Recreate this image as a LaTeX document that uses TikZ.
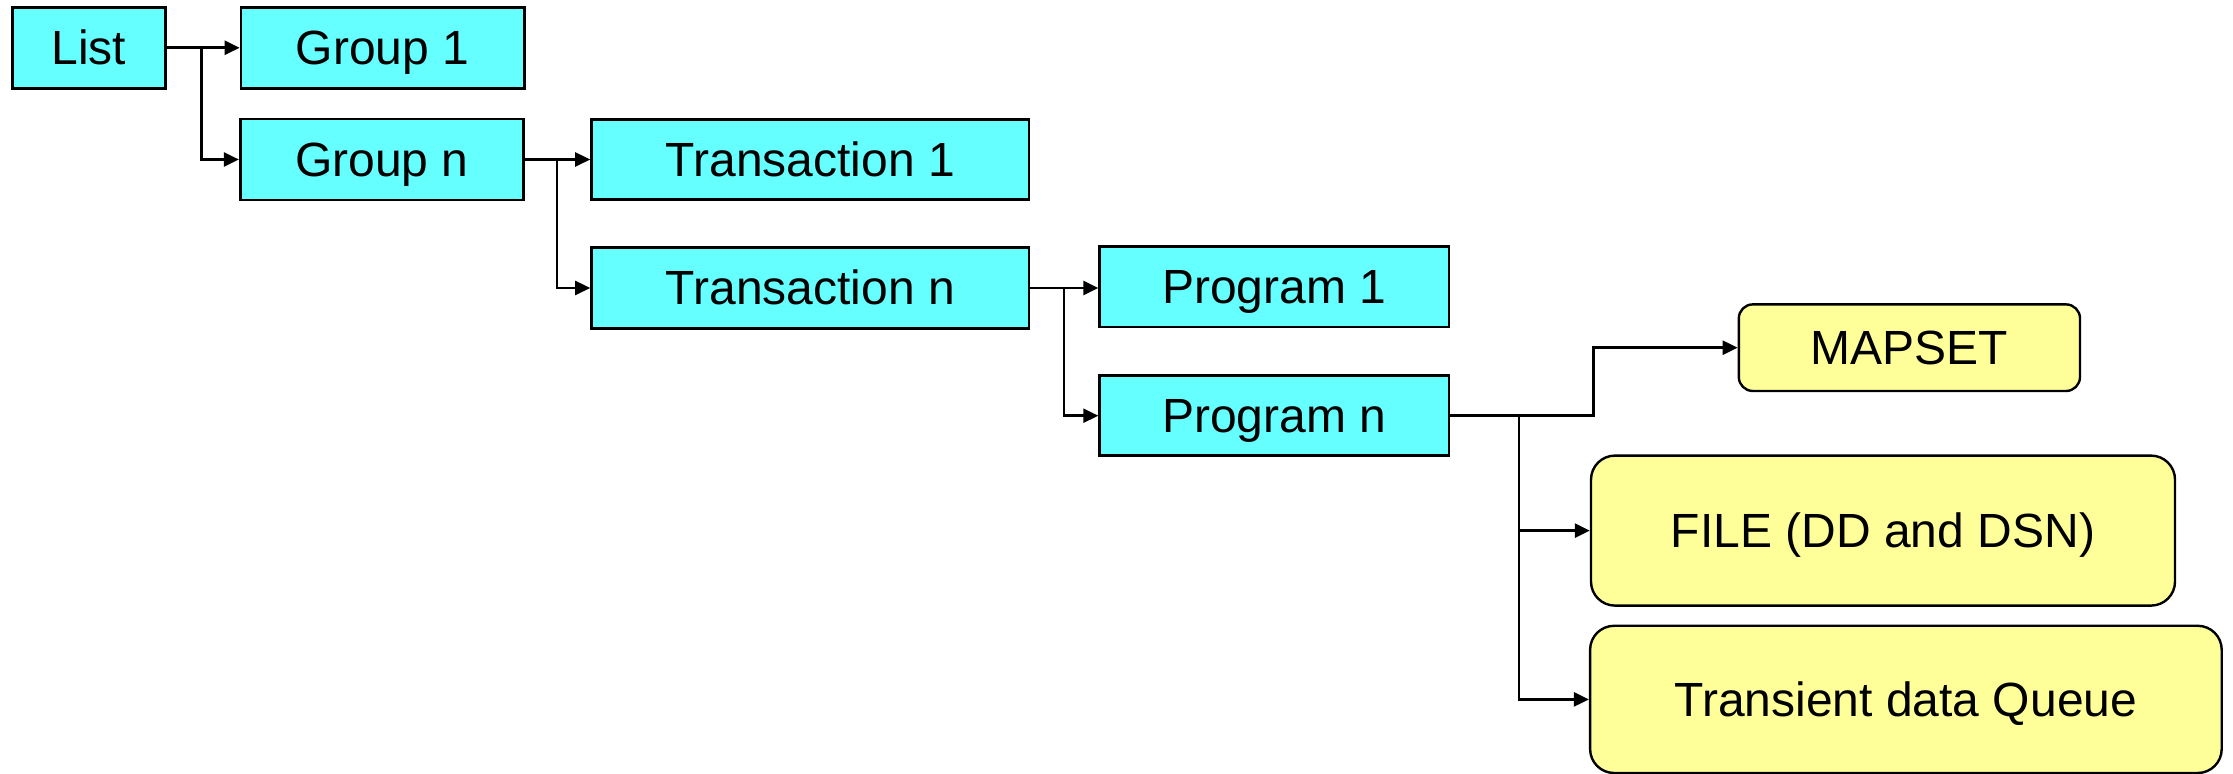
\documentclass[tikz,border=0pt]{standalone}
\usepackage{fontspec}
\setmainfont{Liberation Sans}
\usetikzlibrary{arrows.meta}
\definecolor{boxcyan}{HTML}{66FFFF}
\definecolor{boxyellow}{HTML}{FFFF99}
\begin{document}
\begin{tikzpicture}[x=0.5pt,y=-0.5pt,
  boxtext/.style={inner sep=0pt, text height=16.6pt, text depth=-0.6pt,
    font=\fontsize{24}{28}\selectfont},
  cbox/.style={boxtext, draw=black, line width=1.4pt, fill=boxcyan},
  ybox/.style={boxtext, draw=black, line width=1.2pt, fill=boxyellow},
  arr/.style={line width=1.3pt, -{Triangle[length=7.5pt,width=7pt]}}]
\useasboundingbox (0,0) rectangle (2233,774);
\node[cbox, minimum width=76.7pt, minimum height=40.5pt] (list) at (89,47.8) {List};
\node[cbox, minimum width=141.6pt, minimum height=40.5pt] (group1) at (382.6,47.8) {Group 1};
\node[cbox, minimum width=141.5pt, minimum height=40.5pt] (groupn) at (381.8,159.5) {Group n};
\node[cbox, minimum width=218.7pt, minimum height=40.3pt] (trans1) at (810.3,159.5) {Transaction 1};
\node[cbox, minimum width=218.7pt, minimum height=40.3pt] (transn) at (810.3,288) {Transaction n};
\node[cbox, minimum width=174.6pt, minimum height=40.2pt] (prog1) at (1274.3,286.9) {Program 1};
\node[cbox, minimum width=174.6pt, minimum height=40pt] (progn) at (1274.3,415.7) {Program n};
\node[ybox, rounded corners=7pt, minimum width=170.6pt, minimum height=43.3pt] (mapset) at (1909.4,347.7) {MAPSET};
\node[ybox, rounded corners=12pt, minimum width=292pt, minimum height=75pt] (file) at (1883,530.6) {FILE (DD and DSN)};
\node[ybox, rounded corners=12pt, minimum width=315.8pt, minimum height=73.6pt] (tq) at (1905.9,699.4) {Transient data Queue};
\coordinate (j1) at (201.7,47.8);
\coordinate (j2) at (556.8,159.5);
\coordinate (j3) at (1063.8,288);
\coordinate (j4) at (1519,415.7);
\coordinate (b1) at (1593.3,415.7);
\draw[arr] (list) -- (group1);
\draw[arr] (j1) |- (groupn.west);
\draw[arr] (groupn) -- (trans1);
\draw[arr] (j2) |- (transn.west);
\draw[arr] (transn.east) -- (transn.east -| prog1.west);
\draw[arr] (j3) |- (progn.west);
\draw[arr] (progn.east) -- (b1) |- (mapset.west);
\draw[arr] (j4) |- (file.west);
\draw[arr] (j4) |- (tq.west);
\end{tikzpicture}
\end{document}
